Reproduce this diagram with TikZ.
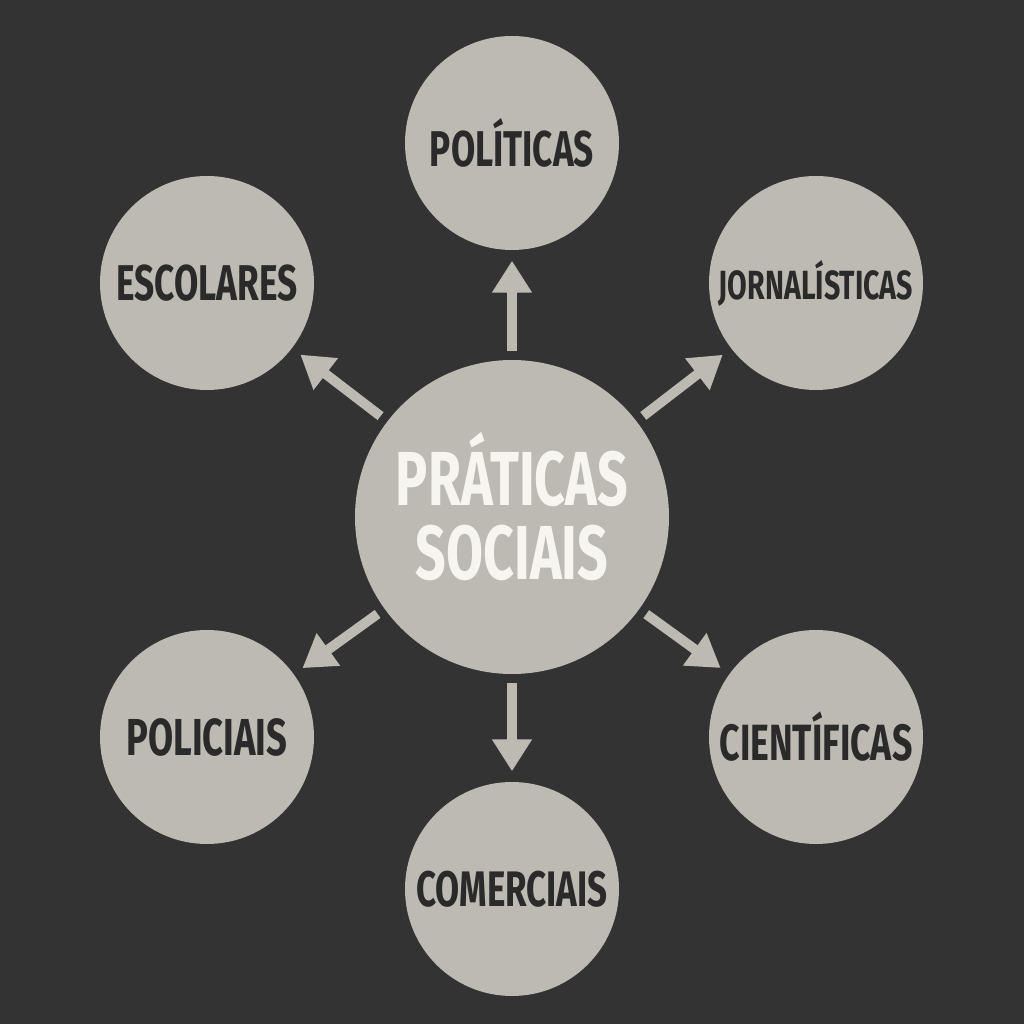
\documentclass[tikz,border=0pt]{standalone}
\usepackage{fontspec}
\usetikzlibrary{arrows.meta}
\newfontfamily\labfont[FakeStretch=0.7]{Fira Sans}
\definecolor{bgdark}{HTML}{333333}
\definecolor{disc}{HTML}{BDBAB3}
\definecolor{ink}{HTML}{2A2A2A}
\definecolor{paper}{HTML}{F7F5F0}
\tikzset{
  hub/.style={circle, fill=disc, minimum size=3.14cm, inner sep=0pt, align=center,
    text=paper, font=\labfont\bfseries\fontsize{21.8}{21}\selectfont},
  leaf/.style={circle, fill=disc, minimum size=2.14cm, inner sep=0pt,
    text=ink, font=\labfont\bfseries\fontsize{14.3}{16}\selectfont},
  arr/.style={draw=disc, line width=2.8pt, shorten <=0.08cm, shorten >=0.1cm,
    -{Triangle[width=0.38cm,length=0.32cm]}}
}
\begin{document}
\begin{tikzpicture}
\fill[bgdark] (0,0) rectangle (10.24,10.24);
\node[hub] (pra) at (5.12,5.07){PRÁTICAS\\SOCIAIS\rule[-6.2pt]{0pt}{6.2pt}};
\node[leaf] (pol) at (5.12,8.81){POLÍTICAS};
\node[leaf] (esc) at (2.07,7.41){ESCOLARES};
\node[leaf, font=\labfont\bfseries\fontsize{11.6}{14}\selectfont] (jor) at (8.16,7.41){JORNALÍSTICAS};
\node[leaf, font=\labfont\bfseries\fontsize{14.8}{16}\selectfont] (poc) at (2.07,2.87){POLICIAIS};
\node[leaf, font=\labfont\bfseries\fontsize{14.5}{16}\selectfont] (cie) at (8.16,2.87){CIENTÍFICAS};
\node[leaf, font=\labfont\bfseries\fontsize{14.2}{16}\selectfont] (com) at (5.12,1.35){COMERCIAIS};
\draw[arr] (pra) -- (pol);
\draw[arr] (pra) -- (esc);
\draw[arr] (pra) -- (jor);
\draw[arr] (pra) -- (poc);
\draw[arr] (pra) -- (cie);
\draw[arr] (pra) -- (com);
\end{tikzpicture}
\end{document}
